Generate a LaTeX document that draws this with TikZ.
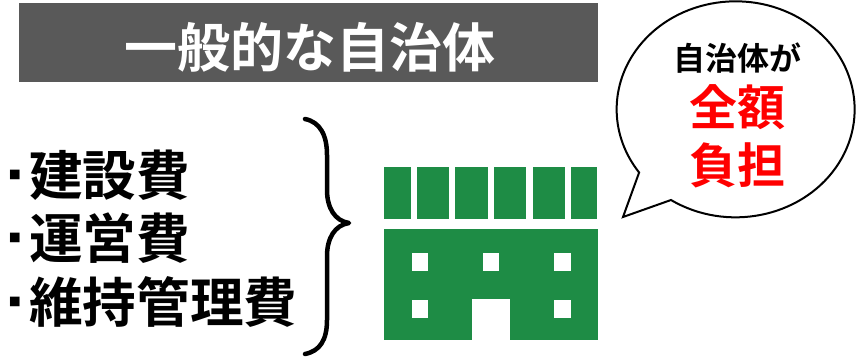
\documentclass[tikz,border=0pt]{standalone}
\usepackage{fontspec}
\newfontfamily\jpfont{Noto Sans CJK JP}[BoldFont={Noto Sans CJK JP Bold}]
\definecolor{titlegray}{HTML}{595959}
\definecolor{bldggreen}{HTML}{1E8C45}
\usetikzlibrary{positioning}

\begin{document}
\begin{tikzpicture}[
    x=1pt, y=-1pt,
    % text
    base/.style={inner sep=0pt, font=\jpfont\bfseries},
    title/.style={base, text=white, font=\jpfont\bfseries\fontsize{53}{53}\selectfont},
    item/.style={base, anchor=west, font=\jpfont\bfseries\fontsize{53.6}{53.6}\selectfont,
      label={[base, font=\jpfont\bfseries\fontsize{12}{12}\selectfont, label distance=8pt]left:■}},
    says/.style={base, font=\jpfont\bfseries\fontsize{32}{32}\selectfont},
    burden/.style={base, text=red, font=\jpfont\bfseries\fontsize{48}{48}\selectfont},
    % shapes
    brace/.style={line width=4.5pt, line cap=round, line join=round},
    bubble/.style={line width=2pt, fill=white, line join=miter},
    bldg/.style={fill=bldggreen},
    hole/.style={fill=white},
  ]
  \useasboundingbox (0,0) rectangle (859,361);

  % title bar
  \fill[titlegray] (19,3) rectangle (598,82);
  \node (head) [title] at (309.5,47) {一般的な自治体};

  % cost list
  \node (build) [item] at (29,175) {建設費};
  \node (oper)  [item] at (29,238) {運営費};
  \node (maint) [item] at (29,302) {維持管理費};

  \draw[brace] (305,119) .. controls (320,122) and (327,135) .. (327,155)
    -- (327,190) .. controls (327,208) and (335,221) .. (349,223)
    .. controls (335,225) and (327,238) .. (327,256)
    -- (327,320) .. controls (327,340) and (320,351) .. (305,354);

  % building
  \foreach \xa/\xb in {384.3/410.7, 416.7/449.3, 455.3/487.7, 494/526.3, 532.7/565.3, 571.3/597.3}
    \fill[bldg] (\xa,167) rectangle (\xb,219);
  \fill[bldg] (384,229) rectangle (598,339.5);
  \foreach \xa in {411.7, 482.7, 554}
    \fill[hole] (\xa,253.3) rectangle +(16.6,18);
  \foreach \xa in {411.7, 554}
    \fill[hole] (\xa,300) rectangle +(16.6,18.3);
  \fill[hole] (472.3,299.3) rectangle (509.7,340);

  % speech bubble
  \draw[bubble] (623,217) -- (671,200)
    arc[start angle=237.1, end angle=575.8, x radius=119pt, y radius=108pt] -- cycle;
  \node (who)  [says]   at (737,58)  {自治体が};
  \node (all)  [burden] at (737,107.5) {全額};
  \node (bear) [burden] at (737,165.5) {負担};
\end{tikzpicture}
\end{document}
